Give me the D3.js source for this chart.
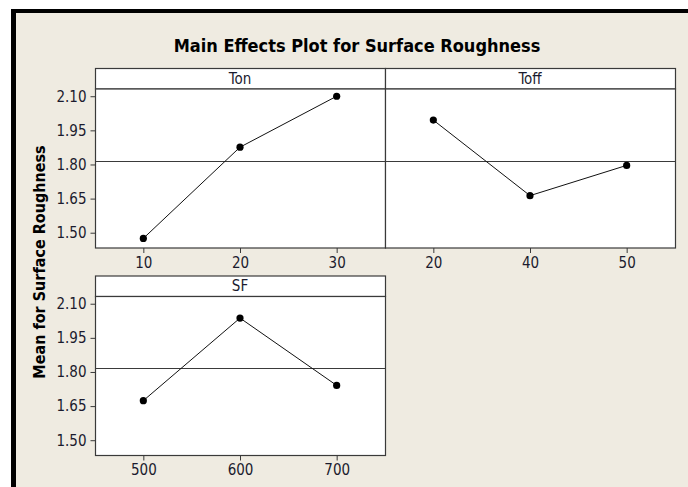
<!DOCTYPE html>
<html>
<head>
<meta charset="utf-8">
<script src="https://cdn.jsdelivr.net/npm/d3@7"></script>
<style>
  body { margin: 0; background: #fff; }
  svg { display: block; }
</style>
</head>
<body>
<div id="chart"></div>
<script>
// Factors and their levels
const factors = ['Ton', 'Toff', 'SF'];
const tonLevels = ['10', '20', '30'];
const toffLevels = ['20', '40', '50'];
const sfLevels = ['500', '600', '700'];
const tonMeans = [1.475, 1.876, 2.100];
const toffMeans = [1.995, 1.663, 1.796];
const sfMeans = [1.674, 2.037, 1.741];
const grandMean = 1.817;
const yTicks = [1.50, 1.65, 1.80, 1.95, 2.10];

const W = 688, H = 487;
const font = '"DejaVu Sans Condensed", "DejaVu Sans", sans-serif';
const textColor = '#1b1b2e';

const svg = d3.select('#chart').append('svg')
    .attr('width', W)
    .attr('height', H);

// Window background with black frame on top and left
svg.append('rect').attr('x', 0).attr('y', 0).attr('width', W).attr('height', H).attr('fill', '#fff');
svg.append('rect').attr('x', 11).attr('y', 9).attr('width', W - 11).attr('height', H - 9).attr('fill', '#000');
svg.append('rect').attr('x', 16).attr('y', 13).attr('width', W - 16).attr('height', H - 13).attr('fill', '#efebe1');

// Title
svg.append('text')
    .attr('x', 357)
    .attr('y', 52)
    .attr('text-anchor', 'middle')
    .attr('font-family', font)
    .attr('font-weight', 'bold')
    .attr('font-size', '18px')
    .attr('fill', '#000')
    .text('Main Effects Plot for Surface Roughness');

// Y axis title
svg.append('text')
    .attr('transform', 'translate(45,262) rotate(-90)')
    .attr('text-anchor', 'middle')
    .attr('font-family', font)
    .attr('font-weight', 'bold')
    .attr('font-size', '16px')
    .attr('fill', '#000')
    .text('Mean for Surface Roughness');

// Panel layout
const panels = [
    { name: factors[0], levels: tonLevels, means: tonMeans, x0: 95, x1: 385, top: 68, showY: true },
    { name: factors[1], levels: toffLevels, means: toffMeans, x0: 385, x1: 675, top: 68, showY: false },
    { name: factors[2], levels: sfLevels, means: sfMeans, x0: 95, x1: 385, top: 275.5, showY: true }
];
const stripH = 20.5;
const plotH = 159;

panels.forEach(p => {
    const g = svg.append('g');
    const plotTop = p.top + stripH;
    const plotBottom = plotTop + plotH;

    const x = d3.scalePoint()
        .domain(p.levels)
        .range([p.x0, p.x1])
        .padding(0.5);
    const y = d3.scaleLinear()
        .domain([1.435, 2.134])
        .range([plotBottom, plotTop]);

    // strip
    g.append('rect')
        .attr('x', p.x0 + 0.5).attr('y', p.top + 0.5)
        .attr('width', p.x1 - p.x0).attr('height', stripH)
        .attr('fill', '#fff').attr('stroke', '#3a3a3a').attr('stroke-width', 1.2);
    g.append('text')
        .attr('x', (p.x0 + p.x1) / 2)
        .attr('y', p.top + stripH / 2 + 5.5)
        .attr('text-anchor', 'middle')
        .attr('font-family', font)
        .attr('font-size', '15px')
        .attr('fill', textColor)
        .text(p.name);

    // plot area
    g.append('rect')
        .attr('x', p.x0 + 0.5).attr('y', plotTop + 0.5)
        .attr('width', p.x1 - p.x0).attr('height', plotH)
        .attr('fill', '#fff').attr('stroke', '#3a3a3a').attr('stroke-width', 1.2);

    // grand mean reference line
    g.append('line')
        .attr('x1', p.x0).attr('x2', p.x1)
        .attr('y1', Math.round(y(grandMean)) + 0.5).attr('y2', Math.round(y(grandMean)) + 0.5)
        .attr('stroke', '#3a3a3a').attr('stroke-width', 1);

    // x axis
    const xAxis = g.append('g')
        .attr('transform', `translate(0,${plotBottom + 0.5})`)
        .call(d3.axisBottom(x).tickSize(5).tickPadding(4));
    xAxis.select('.domain').remove();
    xAxis.selectAll('line').attr('stroke', '#3a3a3a');
    xAxis.selectAll('text')
        .attr('font-family', font).attr('font-size', '15px').attr('fill', textColor);

    // y axis
    if (p.showY) {
        const yAxis = g.append('g')
            .attr('transform', `translate(${p.x0 + 0.5},0)`)
            .call(d3.axisLeft(y).tickValues(yTicks).tickFormat(d3.format('.2f')).tickSize(5).tickPadding(4));
        yAxis.select('.domain').remove();
        yAxis.selectAll('line').attr('stroke', '#3a3a3a');
        yAxis.selectAll('text')
            .attr('font-family', font).attr('font-size', '15px').attr('fill', textColor);
    }

    // effects line and points
    const pts = p.levels.map((l, i) => [x(l), y(p.means[i])]);
    g.append('path')
        .attr('d', d3.line()(pts))
        .attr('fill', 'none')
        .attr('stroke', '#111')
        .attr('stroke-width', 1);
    g.selectAll('circle')
        .data(pts)
        .join('circle')
        .attr('cx', d => d[0])
        .attr('cy', d => d[1])
        .attr('r', 3.6)
        .attr('fill', '#000');
});
</script>
</body>
</html>
